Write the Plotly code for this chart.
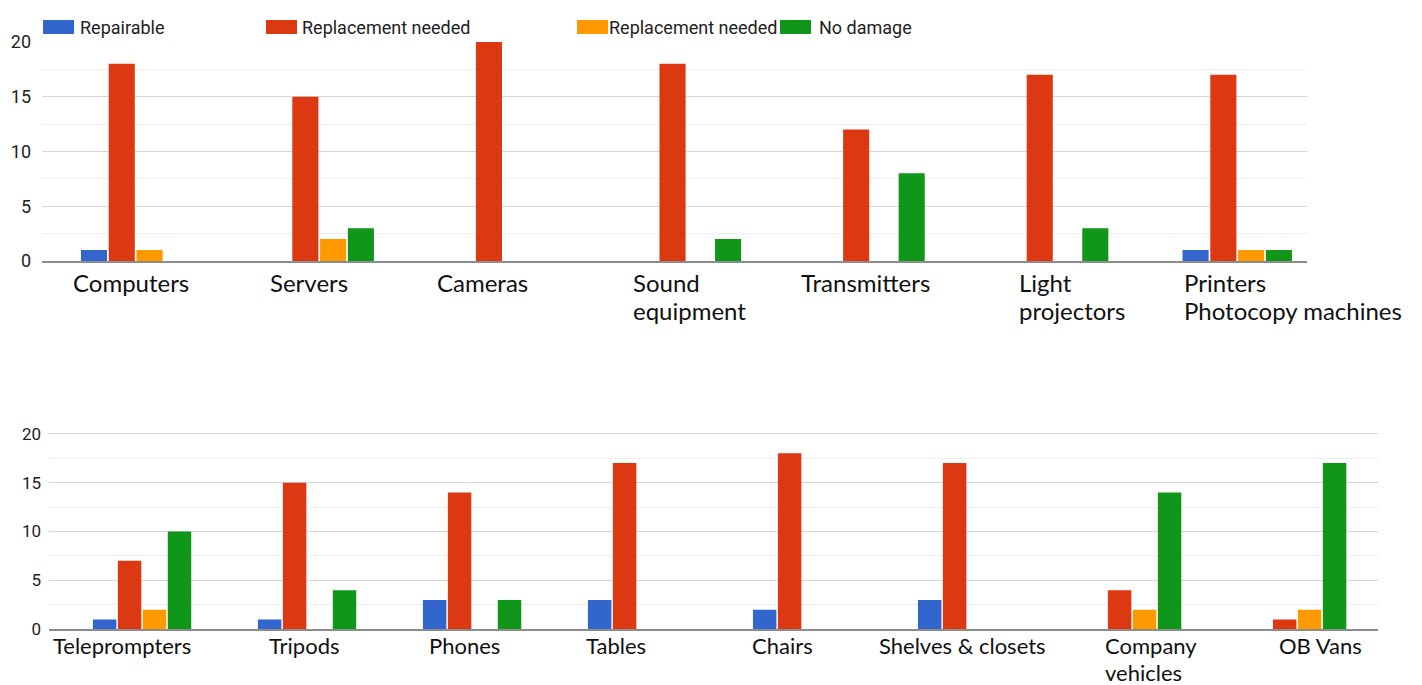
import plotly.graph_objects as go

# ---- data -------------------------------------------------------------
series_names = ["Repairable", "Replacement needed", "Replacement needed", "No damage"]
series_colors = ["#3366cc", "#dc3912", "#ff9900", "#109618"]

top_categories = ["Computers", "Servers", "Cameras", "Sound<br>equipment",
                  "Transmitters", "Light<br>projectors", "Printers<br>Photocopy machines"]
top_repairable = [1, 0, 0, 0, 0, 0, 1]
top_replace_a = [18, 15, 20, 18, 12, 17, 17]
top_replace_b = [1, 2, 0, 0, 0, 0, 1]
top_no_damage = [0, 3, 0, 2, 8, 3, 1]

bottom_categories = ["Teleprompters", "Tripods", "Phones", "Tables", "Chairs",
                     "Shelves & closets", "Company<br>vehicles", "OB Vans"]
bottom_repairable = [1, 1, 3, 3, 2, 3, 0, 0]
bottom_replace_a = [7, 15, 14, 17, 18, 17, 4, 1]
bottom_replace_b = [2, 0, 0, 0, 0, 0, 2, 2]
bottom_no_damage = [10, 4, 3, 0, 0, 0, 14, 17]

y_ticks = [0, 5, 10, 15, 20]

# ---- layout helpers (figure is 1422 x 685 px with no margins) ----------
W, H = 1422, 685


def px_x(p):
    return p / W


def px_y(p):
    return 1 - p / H


fig = go.Figure()

top_values = [top_repairable, top_replace_a, top_replace_b, top_no_damage]
bottom_values = [bottom_repairable, bottom_replace_a, bottom_replace_b, bottom_no_damage]

for vals, color, name in zip(top_values, series_colors, series_names):
    fig.add_trace(go.Bar(x=top_categories, y=vals, name=name, marker_color=color,
                         marker_line_width=0, xaxis="x", yaxis="y", showlegend=False))
for vals, color, name in zip(bottom_values, series_colors, series_names):
    fig.add_trace(go.Bar(x=bottom_categories, y=vals, name=name, marker_color=color,
                         marker_line_width=0, xaxis="x2", yaxis="y2", showlegend=False))

grid_major = "#d6d6d6"
grid_minor = "#eeeeee"
tick_font_family = "Roboto, Arial, sans-serif"

common_x = dict(type="category", showticklabels=False, showgrid=False, zeroline=False,
                showline=True, linecolor="#8c8c8c", linewidth=2, ticks="",
                automargin=False)
common_y = dict(tickvals=y_ticks, showgrid=True, gridcolor=grid_major, gridwidth=1,
                zeroline=False, showline=False, ticks="", automargin=False,
                minor=dict(dtick=2.5, showgrid=True, gridcolor=grid_minor, gridwidth=1))

fig.update_layout(
    width=W, height=H,
    margin=dict(l=0, r=0, t=0, b=0, autoexpand=False),
    paper_bgcolor="white", plot_bgcolor="white",
    barmode="group", bargap=0.395, bargroupgap=0.06,
    xaxis=dict(common_x, domain=[px_x(42), px_x(1307)], range=[-0.51, 6.38],
               anchor="y"),
    yaxis=dict(common_y, domain=[px_y(261), px_y(41.7)], range=[0, 20.02],
               anchor="x", tickfont=dict(family=tick_font_family, size=18, color="#222"),
               ticklabelstandoff=10),
    xaxis2=dict(common_x, domain=[px_x(49), px_x(1378)], range=[-0.564, 7.49],
                anchor="y2"),
    yaxis2=dict(common_y, domain=[px_y(629.3), px_y(408.8)], range=[0, 22.55],
                anchor="x2", tickfont=dict(family=tick_font_family, size=17, color="#222"),
                ticklabelstandoff=7),
)

# ---- category labels (each line placed separately) -----------------------
label_family = "Lato, 'Open Sans', sans-serif"
top_label_shift = [-65, -51, -68, -55, -71, -37, -55]
bottom_label_shift = [-91, -40, -45, -53, -52, -90, -29, -20]


def add_category_labels(categories, shifts, xref, yref, first_shift, line_gap, size):
    for cat, dx in zip(categories, shifts):
        for k, line in enumerate(cat.split("<br>")):
            fig.add_annotation(x=cat, y=0, xref=xref, yref=yref, text=line,
                               showarrow=False, xanchor="left", yanchor="top",
                               align="left", xshift=dx,
                               yshift=first_shift - k * line_gap,
                               font=dict(family=label_family, size=size, color="#111"))


add_category_labels(top_categories, top_label_shift, "x", "y", -5, 28, 24)
add_category_labels(bottom_categories, bottom_label_shift, "x2", "y2", -1, 27, 22)

# ---- legend along the top ------------------------------------------------
legend_swatch_x = [43, 266, 577, 780]
legend_text_x = [78, 300, 607, 817]
for sx, tx, color, name in zip(legend_swatch_x, legend_text_x, series_colors, series_names):
    fig.add_shape(type="rect", xref="paper", yref="paper",
                  x0=px_x(sx), x1=px_x(sx + 31), y0=px_y(34), y1=px_y(20),
                  fillcolor=color, line_width=0)
    fig.add_annotation(x=px_x(tx), y=px_y(27), xref="paper", yref="paper", text=name,
                       showarrow=False, xanchor="left", yanchor="middle",
                       font=dict(family=tick_font_family, size=18, color="#222"))

fig.write_html("out.html")
